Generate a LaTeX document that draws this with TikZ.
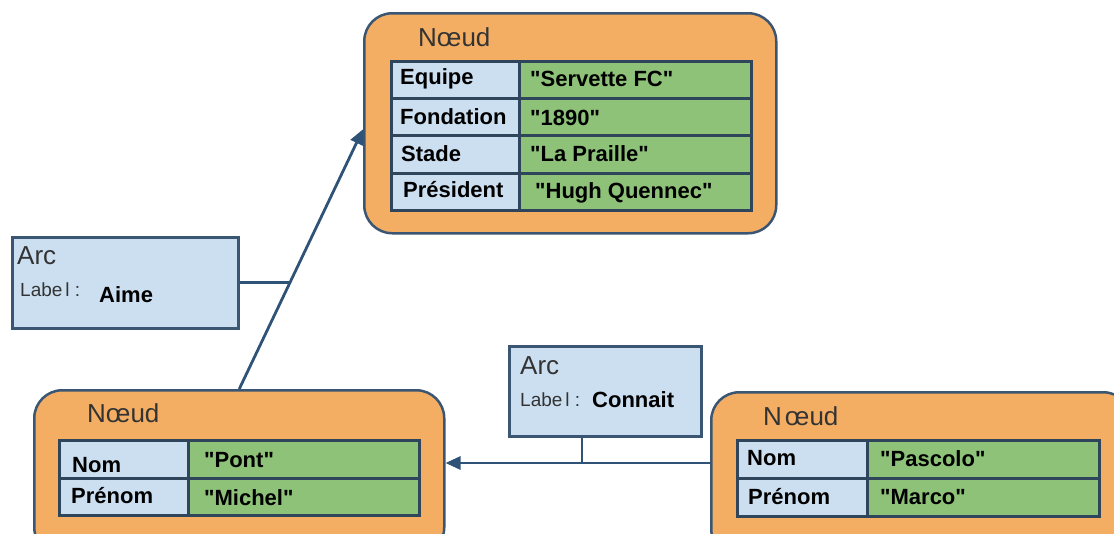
\documentclass[tikz,border=0pt]{standalone}
\usepackage{fontspec}
\setmainfont{Liberation Sans}
\usetikzlibrary{arrows.meta,calc}
\newcommand{\dq}{\XeTeXglyph\XeTeXcharglyph"22\relax}
\definecolor{orangefill}{HTML}{F4AE64}
\definecolor{edgeblue}{HTML}{3A5672}
\definecolor{keyblue}{HTML}{CCDFF1}
\definecolor{valgreen}{HTML}{8DC278}
\definecolor{linkblue}{HTML}{2E5377}
\definecolor{titlegray}{HTML}{333333}
\tikzset{
  noeud/.style={draw=edgeblue, line width=2.5pt, fill=orangefill, rounded corners=28pt, anchor=north west, inner sep=0pt},
  arcbox/.style={draw=edgeblue, line width=2.5pt, fill=keyblue, anchor=north west, inner sep=0pt},
  keycell/.style={draw=edgeblue!80!black, line width=2.5pt, fill=keyblue, anchor=north west, inner sep=0pt},
  valcell/.style={draw=edgeblue!80!black, line width=2.5pt, fill=valgreen, anchor=north west, inner sep=0pt},
  title/.style={anchor=west, inner sep=0pt, text=titlegray, font=\fontsize{26}{30}\selectfont},
  keytxt/.style={anchor=west, inner sep=0pt, font=\fontsize{22}{26}\selectfont\bfseries},
  lbl/.style={anchor=west, inner sep=0pt, text=titlegray, font=\fontsize{19}{22}\selectfont},
  link/.style={draw=linkblue, line width=2.8pt},
  tip/.style={-{Triangle[length=15pt,width=13pt]}}
}
\begin{document}
\begin{tikzpicture}[x=1pt,y=-1pt]
\useasboundingbox (0,0) rectangle (1114,533);
\begin{scope}
\clip (0,0) rectangle (1114,533);
% ---- top node
\node[noeud, minimum width=412, minimum height=220] (n1) at (363,12) {};
\node[title] (n1t) at (418,37) {Nœud};
\node[keycell, minimum width=128, minimum height=37] (k11) at (390,60) {};
\node[keycell, minimum width=128, minimum height=37] (k12) at (390,97) {};
\node[keycell, minimum width=128, minimum height=38] (k13) at (390,134) {};
\node[keycell, minimum width=128, minimum height=37] (k14) at (390,172) {};
\node[valcell, minimum width=232, minimum height=37] (v11) at (518,60) {};
\node[valcell, minimum width=232, minimum height=37] (v12) at (518,97) {};
\node[valcell, minimum width=232, minimum height=38] (v13) at (518,134) {};
\node[valcell, minimum width=232, minimum height=37] (v14) at (518,172) {};
\node[keytxt] (tk11) at (400,79) {Equipe};
\node[keytxt] (tk12) at (400,117) {Fondation};
\node[keytxt] (tk13) at (401,154) {Stade};
\node[keytxt] (tk14) at (403,190) {Président};
\node[keytxt] (tv11) at (530,79) {\dq Servette FC\dq};
\node[keytxt] (tv12) at (530,118) {\dq 1890\dq};
\node[keytxt] (tv13) at (530,154) {\dq La Praille\dq};
\node[keytxt] (tv14) at (535,193) {\dq Hugh Quennec\dq};
% ---- bottom-left node
\node[noeud, minimum width=410, minimum height=165] (n2) at (33,389) {};
\node[title] (n2t) at (87,413) {Nœud};
\node[keycell, minimum width=129, minimum height=38] (k21) at (58,439) {};
\node[keycell, minimum width=129, minimum height=37] (k22) at (58,477) {};
\node[valcell, minimum width=231, minimum height=38] (v21) at (187,439) {};
\node[valcell, minimum width=231, minimum height=37] (v22) at (187,477) {};
\node[keytxt] (tk21) at (72,465) {Nom};
\node[keytxt] (tk22) at (71,496) {Prénom};
\node[keytxt] (tv21) at (204,460) {\dq Pont\dq};
\node[keytxt] (tv22) at (204,498) {\dq Michel\dq};
% ---- right node
\node[noeud, minimum width=420, minimum height=165] (n3) at (710,391) {};
\node[title] (n3t) at (763,416) {N\kern3ptœud};
\node[keycell, minimum width=130, minimum height=38] (k31) at (736,439) {};
\node[keycell, minimum width=130, minimum height=38] (k32) at (736,477) {};
\node[valcell, minimum width=232, minimum height=38] (v31) at (866,439) {};
\node[valcell, minimum width=232, minimum height=38] (v32) at (866,477) {};
\node[keytxt] (tk31) at (747,458) {Nom};
\node[keytxt] (tk32) at (748,497) {Prénom};
\node[keytxt] (tv31) at (880,459) {\dq Pascolo\dq};
\node[keytxt] (tv32) at (880,497) {\dq Marco\dq};
% ---- arc boxes
\node[arcbox, minimum width=226, minimum height=91] (a1) at (11,236) {};
\node[title] (a1t) at (17,256) {Arc};
\node[lbl] (a1l) at (20,290) {Labe\kern3pt l :};
\node[keytxt] (a1v) at (99,295) {Aime};
\node[arcbox, minimum width=192, minimum height=90] (a2) at (508,345) {};
\node[title] (a2t) at (520,366) {Arc};
\node[lbl] (a2l) at (520,400) {Labe\kern3pt l :};
\node[keytxt] (a2v) at (592,400) {Connait};
% ---- connectors
\coordinate (e1s) at (n2.north);
\coordinate (e1e) at ($(n1.west)+(0,6)$);
\draw[link,tip] (e1s) -- (e1e);
\coordinate (m1) at ($(e1s)!0.414!(e1e)$);
\draw[link] (a1.east) -- (a1.east -| m1);
\coordinate (e2s) at (n3.west |- 0,463);
\coordinate (e2e) at (n2.east |- 0,463);
\draw[link,tip] (e2s) -- (e2e);
\coordinate (m2) at ($(a2.south west)+(74,0)$);
\draw[link] (m2) -- (m2 |- e2s);
\end{scope}
\end{tikzpicture}
\end{document}
